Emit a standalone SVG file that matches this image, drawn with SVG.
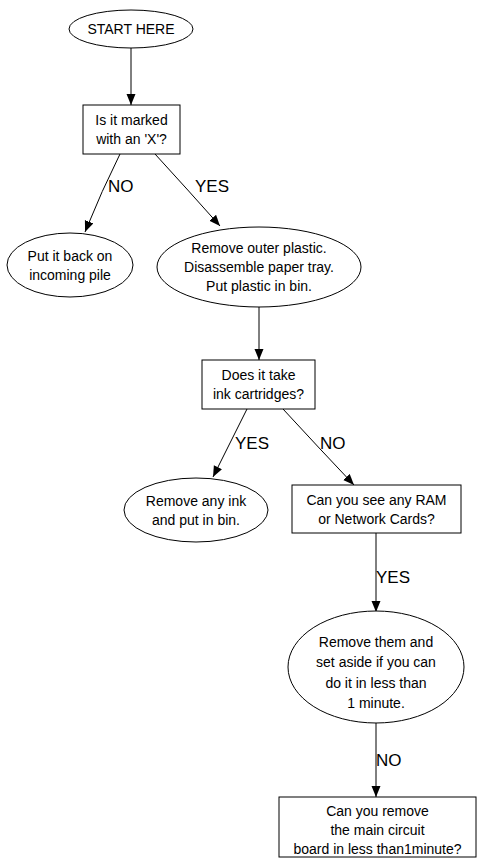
<svg xmlns="http://www.w3.org/2000/svg" width="479" height="864" viewBox="0 0 479 864">
<defs>
<style>
.n{fill:#fff;stroke:#000;stroke-width:1}
.t{font-family:"Liberation Sans",Arial,sans-serif;font-size:14px;fill:#000;text-anchor:middle}
.l{font-family:"Liberation Sans",Arial,sans-serif;font-size:17px;fill:#000}
.e{fill:none;stroke:#000;stroke-width:1}
</style>
<marker id="ah" markerUnits="userSpaceOnUse" markerWidth="12" markerHeight="10" refX="11" refY="4.5" orient="auto">
<path d="M0,0 L11,4.5 L0,9 z" fill="#000"/>
</marker>
</defs>
<rect width="479" height="864" fill="#fff"/>
<g id="edges">
<path class="e" d="M131,48 L131,105" marker-end="url(#ah)"/>
<path class="e" d="M120,154 Q102,190 85,232" marker-end="url(#ah)"/>
<path class="e" d="M155,154 Q188,190 220,226" marker-end="url(#ah)"/>
<path class="e" d="M259,307 L259,360" marker-end="url(#ah)"/>
<path class="e" d="M247,409 Q230,443 213,477" marker-end="url(#ah)"/>
<path class="e" d="M283,409 Q318,447 354,485" marker-end="url(#ah)"/>
<path class="e" d="M376,533 L376,612" marker-end="url(#ah)"/>
<path class="e" d="M376,723 L376,797" marker-end="url(#ah)"/>
<text class="l" x="108" y="192">NO</text>
<text class="l" x="195" y="192">YES</text>
<text class="l" x="235" y="449">YES</text>
<text class="l" x="320" y="449">NO</text>
<text class="l" x="376" y="583">YES</text>
<text class="l" x="376" y="766">NO</text>
</g>
<g id="start">
<ellipse class="n" cx="131" cy="29" rx="62" ry="19"/>
<text class="t" x="131" y="34">START HERE</text>
</g>
<g id="marked">
<rect class="n" x="83" y="105" width="97" height="49"/>
<text class="t" x="131.5" y="125">Is it marked</text>
<text class="t" x="131.5" y="144">with an 'X'?</text>
</g>
<g id="putback">
<ellipse class="n" cx="70" cy="265" rx="63" ry="32"/>
<text class="t" x="70" y="261">Put it back on</text>
<text class="t" x="70" y="280">incoming pile</text>
</g>
<g id="removeplastic">
<ellipse class="n" cx="259" cy="267" rx="102" ry="40"/>
<text class="t" x="259" y="253">Remove outer plastic.</text>
<text class="t" x="259" y="272">Disassemble paper tray.</text>
<text class="t" x="259" y="291">Put plastic in bin.</text>
</g>
<g id="ink">
<rect class="n" x="202" y="360" width="113" height="49"/>
<text class="t" x="258.5" y="380">Does it take</text>
<text class="t" x="258.5" y="399">ink cartridges?</text>
</g>
<g id="removeink">
<ellipse class="n" cx="196" cy="510" rx="72" ry="32"/>
<text class="t" x="196" y="506">Remove any ink</text>
<text class="t" x="196" y="525">and put in bin.</text>
</g>
<g id="ram">
<rect class="n" x="292" y="485" width="169" height="48"/>
<text class="t" x="376.5" y="505">Can you see any RAM</text>
<text class="t" x="376.5" y="524">or Network Cards?</text>
</g>
<g id="removethem">
<ellipse class="n" cx="376" cy="667" rx="88" ry="56"/>
<text class="t" x="376" y="647">Remove them and</text>
<text class="t" x="376" y="667">set aside if you can</text>
<text class="t" x="376" y="688">do it in less than</text>
<text class="t" x="376" y="708">1 minute.</text>
</g>
<g id="board">
<rect class="n" x="279" y="797" width="197" height="60"/>
<text class="t" x="377.5" y="816">Can you remove</text>
<text class="t" x="377.5" y="835">the main circuit</text>
<text class="t" x="377.5" y="854">board in less than1minute?</text>
</g>
</svg>
